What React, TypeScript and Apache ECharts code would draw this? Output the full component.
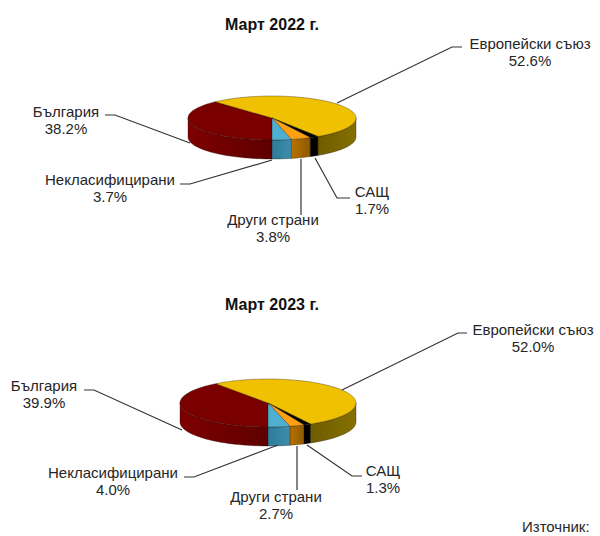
import React, { useEffect, useRef } from "react";
import * as echarts from "echarts";

const categories = ["България", "Европейски съюз", "САЩ", "Други страни", "Некласифицирани"];
const values2022 = [38.2, 52.6, 1.7, 3.8, 3.7];
const values2023 = [39.9, 52.0, 1.3, 2.7, 4.0];
const titles = ["Март 2022 г.", "Март 2023 г."];
const sourceText = "Източник:";

const topColors = ["#7A0000", "#EFC100", "#000000", "#FFA010", "#4FAFD0"];
const sideColors = [
  ["#7E0000", "#5E0000"],
  ["#6E5C00", "#857000"],
  ["#000000", "#000000"],
  ["#B87200", "#8E5A00"],
  ["#2F7C9C", "#3C8DAD"],
];
const FONT = "'Liberation Sans', Arial, sans-serif";
const INK = "#262626";

type P = number[];
interface PieLayout {
  cx: number; cy: number; rx: number; ry: number; depth: number;
  labels: { x: number; y: number }[];
  lines: P[][];
}

const layout2022: PieLayout = {
  cx: 272, cy: 118, rx: 84, ry: 22, depth: 19,
  labels: [{ x: 66, y: 111 }, { x: 530, y: 43 }, { x: 372, y: 191 }, { x: 273, y: 219 }, { x: 110, y: 179 }],
  lines: [
    [[105, 115], [115, 115], [190, 143]],
    [[337, 103], [452, 47], [462, 47]],
    [[315, 158], [337, 198], [350, 198]],
    [[301, 159], [301, 215]],
    [[180, 184], [190, 184], [272, 160]],
  ],
};
const layout2023: PieLayout = {
  cx: 268, cy: 403, rx: 88, ry: 24, depth: 19,
  labels: [{ x: 44, y: 385 }, { x: 533, y: 329 }, { x: 383, y: 470 }, { x: 276, y: 496 }, { x: 113, y: 472 }],
  lines: [
    [[84, 390], [94, 390], [182, 430]],
    [[342, 390], [458, 333], [467, 333]],
    [[307, 445], [352, 476], [362, 476]],
    [[297, 446], [297, 490]],
    [[184, 477], [194, 477], [278, 445]],
  ],
};

function arcPoints(l: PieLayout, a0: number, a1: number, dy: number): P[] {
  const pts: P[] = [];
  const n = Math.max(2, Math.ceil(Math.abs(a1 - a0) / 1.5));
  for (let i = 0; i <= n; i++) {
    const a = ((a0 + ((a1 - a0) * i) / n) * Math.PI) / 180;
    pts.push([l.cx + l.rx * Math.sin(a), l.cy - l.ry * Math.cos(a) + dy]);
  }
  return pts;
}

function pieSeries(values: number[], l: PieLayout) {
  const total = values.reduce((s, v) => s + v, 0);
  return {
    type: "custom",
    coordinateSystem: "none",
    silent: true,
    data: values.map((v, i) => ({ name: categories[i], value: v })),
    renderItem: (params: any, api: any) => {
      const i = params.dataIndex;
      const before = values.slice(0, i).reduce((s, v) => s + v, 0);
      // First slice starts at 6 o'clock, going clockwise
      const a0 = 180 + (before / total) * 360;
      const a1 = a0 + (api.value(0) / total) * 360;
      const children: any[] = [];
      const edge = "rgba(30,15,0,0.65)";
      [[90, 270], [450, 630]].forEach(([lo, hi]) => {
        const s = Math.max(a0, lo);
        const e = Math.min(a1, hi);
        if (e <= s) return;
        const points = [...arcPoints(l, s, e, 0), ...arcPoints(l, e, s, l.depth)];
        children.push({
          type: "polygon",
          shape: { points },
          style: {
            fill: new echarts.graphic.LinearGradient(0, 0, 1, 0, [
              { offset: 0, color: sideColors[i][0] },
              { offset: 1, color: sideColors[i][1] },
            ]),
            stroke: edge,
            lineWidth: 0.5,
          },
        });
      });
      children.push({
        type: "polygon",
        shape: { points: [[l.cx, l.cy], ...arcPoints(l, a0, a1, 0)] },
        style: { fill: topColors[i], stroke: edge, lineWidth: 0.5 },
      });
      children.push({
        type: "polyline",
        shape: { points: l.lines[i] },
        style: { fill: "none", stroke: "#333333", lineWidth: 1.2 },
      });
      const pos = l.labels[i];
      [categories[i], api.value(0).toFixed(1) + "%"].forEach((t, k) => {
        children.push({
          type: "text",
          style: {
            text: t, x: pos.x, y: pos.y + k * 17, align: "center", verticalAlign: "middle",
            font: `15px ${FONT}`, fill: INK,
          },
        });
      });
      return { type: "group", children };
    },
  };
}

export default function App() {
  const ref = useRef<HTMLDivElement>(null);
  useEffect(() => {
    document.body.style.margin = "0";
    const chart = echarts.init(ref.current!, null, { renderer: "svg" });
    chart.setOption({
      animation: false,
      backgroundColor: "#FFFFFF",
      graphic: [
        ...titles.map((text, i) => ({
          type: "text", x: 272, y: i === 0 ? 24 : 304,
          style: {
            text, font: `bold 16px ${FONT}`, fill: "#111111", align: "center", verticalAlign: "middle",
          },
        })),
        {
          type: "text", x: 522, y: 526,
          style: { text: sourceText, font: `15px ${FONT}`, fill: INK, verticalAlign: "middle" },
        },
      ],
      series: [pieSeries(values2022, layout2022), pieSeries(values2023, layout2023)],
    });
    return () => chart.dispose();
  }, []);
  return <div ref={ref} style={{ width: 600, height: 536 }} />;
}
